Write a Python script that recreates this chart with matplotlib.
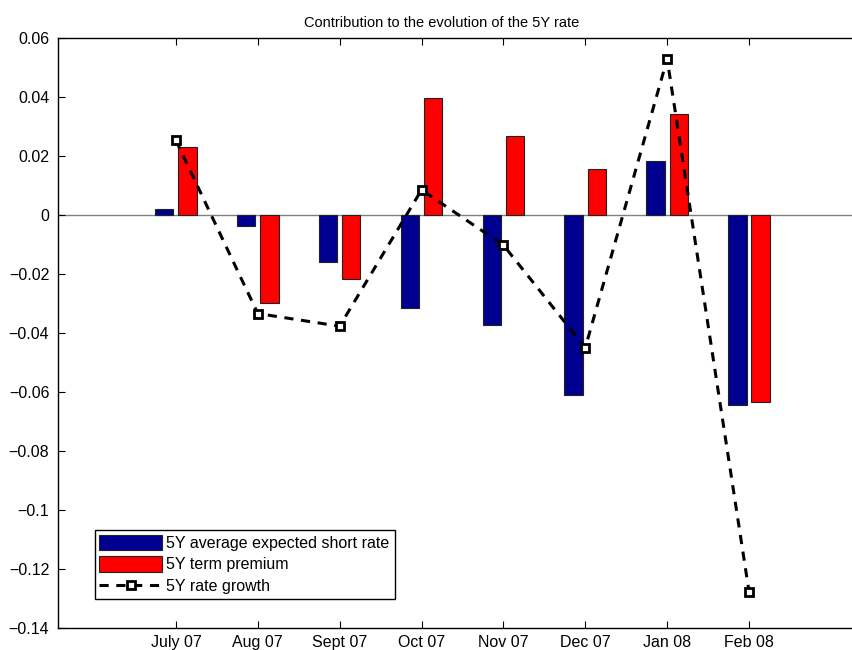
import numpy as np
import matplotlib
matplotlib.use("Agg")
import matplotlib.pyplot as plt

months = ["July 07", "Aug 07", "Sept 07", "Oct 07", "Nov 07", "Dec 07", "Jan 08", "Feb 08"]
short_rate = [0.0023, -0.0036, -0.0160, -0.0314, -0.0371, -0.0609, 0.0184, -0.0644]
term_premium = [0.0233, -0.0296, -0.0215, 0.0399, 0.0269, 0.0158, 0.0344, -0.0632]
rate_growth = [0.0254, -0.0333, -0.0376, 0.0086, -0.0101, -0.0449, 0.0530, -0.1276]

plt.rcParams['font.family'] = ['Liberation Sans', 'DejaVu Sans']
plt.rcParams['font.size'] = 11.5

fig = plt.figure(figsize=(8.53, 6.5), dpi=100)
# axes runs past the right edge, like the cropped original
ax = fig.add_axes([0.0676, 0.0334, 0.952, 0.9077])

x = np.arange(1, len(months) + 1)
w = 0.225
b1 = ax.bar(x - 0.142, short_rate, w, color='#000090', edgecolor='#222222', linewidth=0.8,
            label='5Y average expected short rate', zorder=2)
b2 = ax.bar(x + 0.142, term_premium, w, color='#ff0000', edgecolor='#222222', linewidth=0.8,
            label='5Y term premium', zorder=2)
ax.axhline(0, color='#808080', linewidth=1, zorder=1)
ln, = ax.plot(x, rate_growth, 'k--', linewidth=2.2, dashes=(3, 2.5), marker='s', markersize=6,
              markerfacecolor='white', markeredgecolor='black', markeredgewidth=2,
              label='5Y rate growth', zorder=3)

ax.set_xlim(-0.444, 9.474)
ax.set_ylim(-0.14, 0.06)
ax.set_xticks(x)
ax.set_xticklabels(months)
ax.set_yticks(np.arange(-0.14, 0.061, 0.02))
ax.set_yticklabels(['\u22120.14', '\u22120.12', '\u22120.1', '\u22120.08', '\u22120.06',
                    '\u22120.04', '\u22120.02', '0', '0.02', '0.04', '0.06'])
ax.tick_params(direction='in', length=5, top=True, right=False, width=0.8)
ax.tick_params(axis='x', pad=4.5)
ax.tick_params(axis='y', pad=6)
ax.spines['right'].set_visible(False)
for s in ['left', 'bottom', 'top']:
    ax.spines[s].set_linewidth(1.0)

ax.set_title('Contribution to the evolution of the 5Y rate', x=0.473, fontsize=10.5, pad=8)

leg = ax.legend(handles=[b1, b2, ln], loc='lower left', bbox_to_anchor=(0.0455, 0.0497),
                borderaxespad=0, fancybox=False, edgecolor='black', framealpha=1,
                handlelength=3.9, handleheight=1.1, labelspacing=0.35, borderpad=0.3,
                handletextpad=0.3)
leg.get_frame().set_linewidth(1.0)

fig.savefig('out.png', dpi=100)
